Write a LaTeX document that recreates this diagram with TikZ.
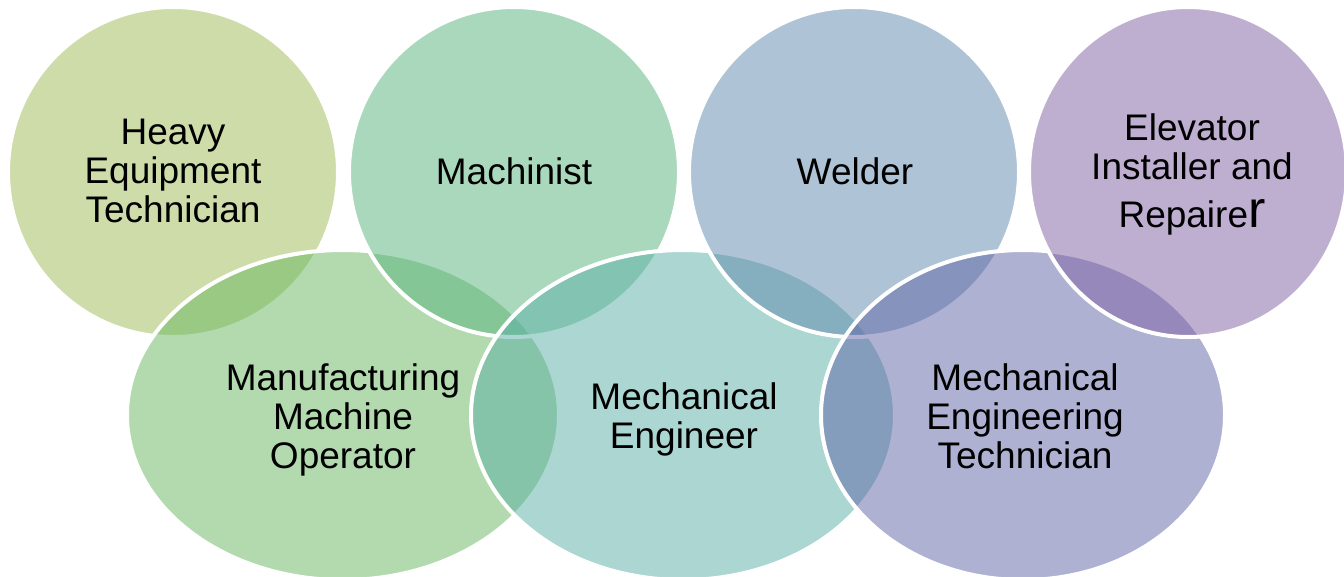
\documentclass[tikz,border=0pt]{standalone}
\usepackage{fontspec}
\setmainfont{Liberation Sans}
\definecolor{heavygreen}{RGB}{159,187,87}
\definecolor{manugreen}{RGB}{103,183,95}
\definecolor{machgreen}{RGB}{87,179,125}
\definecolor{mechteal}{RGB}{91,175,167}
\definecolor{weldblue}{RGB}{95,137,173}
\definecolor{techblue}{RGB}{95,101,167}
\definecolor{elevpurple}{RGB}{127,97,165}
\tikzset{
  venn/.style={draw=white, line width=4pt, fill opacity=0.5},
  jobtext/.style={align=center, text=black, font=\fontsize{37}{39}\selectfont}
}

\begin{document}
\begin{tikzpicture}[x=1pt,y=-1pt]
			%%%%% START %%%%%
			
			\clip (0,0) rectangle (1344,576);
			\fill[white] (0,0) rectangle (1344,576);
			
			% top and bottom rings, drawn in turn
			\draw[venn, fill=heavygreen] (173,172) circle [radius=165pt];
			\draw[venn, fill=manugreen] (343,415) ellipse [x radius=216pt, y radius=165pt];
			\draw[venn, fill=machgreen] (514,172) circle [radius=165pt];
			\draw[venn, fill=mechteal] (683,415) ellipse [x radius=212pt, y radius=165pt];
			\draw[venn, fill=weldblue] (854,172) circle [radius=165pt];
			\draw[venn, fill=techblue] (1023,415) ellipse [x radius=202pt, y radius=165pt];
			\draw[venn, fill=elevpurple] (1188,172) ellipse [x radius=159pt, y radius=165pt];
			
			% labels
			\node[jobtext] (heavy) at (173,171) {Heavy\\Equipment\\Technician};
			\node[jobtext] (machinist) at (514,171) {Machinist};
			\node[jobtext] (welder) at (855,171) {Welder};
			\node[jobtext] (elevator) at (1192,174) {Elevator\\Installer and\\[9pt]Repaire{\fontsize{52}{52}\selectfont r}};
			\node[jobtext] (manufacturing) at (343,420) {Manufacturing\\Machine\\Operator};
			\node[jobtext] (mecheng) at (684,419) {Mechanical\\Engineer};
			\node[jobtext] (mechtech) at (1025,416) {Mechanical\\Engineering\\Technician};
			
			%%%%% END %%%%%
\end{tikzpicture}
\end{document}
